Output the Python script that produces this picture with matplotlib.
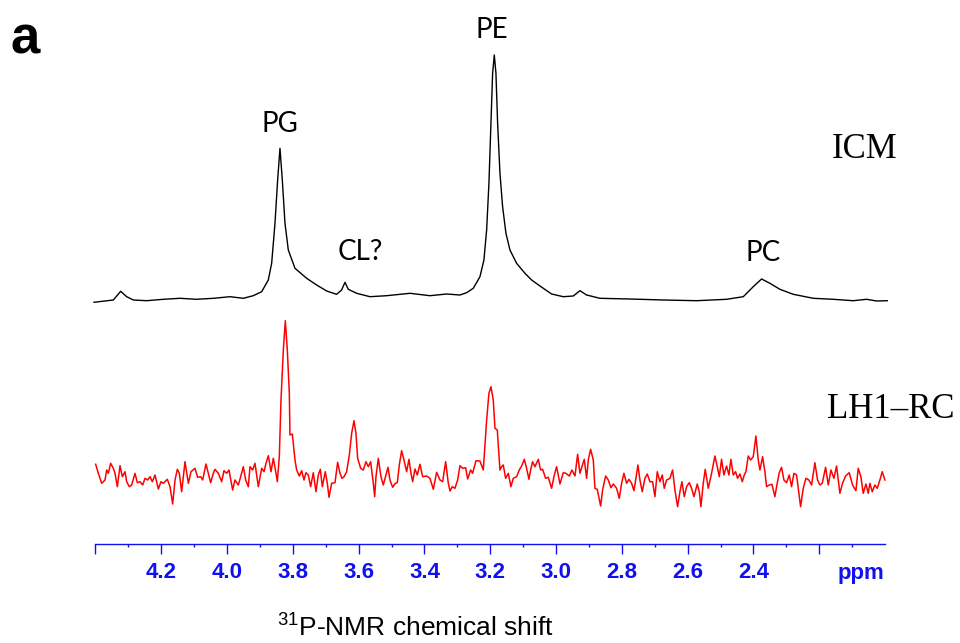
import numpy as np
import matplotlib
matplotlib.use('Agg')
import matplotlib.pyplot as plt

# ICM spectrum: chemical shift (ppm) and intensity (a.u., baseline = 0)
icm_ppm = [4.4045, 4.3458, 4.3235, 4.3053, 4.2850, 4.2445, 4.1938, 4.1431, 4.0925, 4.0418,
           3.9912, 3.9506, 3.9203, 3.8949, 3.8747, 3.8645, 3.8544, 3.8463, 3.8392, 3.8321,
           3.8240, 3.8139, 3.7936, 3.7581, 3.7277, 3.6974, 3.6670, 3.6518, 3.6416, 3.6315,
           3.6062, 3.5656, 3.5150, 3.4441, 3.3833, 3.3326, 3.2921, 3.2718, 3.2516, 3.2313,
           3.2192, 3.2110, 3.2040, 3.1979, 3.1928, 3.1877, 3.1827, 3.1776, 3.1705, 3.1624,
           3.1523, 3.1401, 3.1199, 3.0945, 3.0743, 3.0489, 3.0135, 2.9780, 2.9476, 2.9273,
           2.9071, 2.8666, 2.7754, 2.6741, 2.5727, 2.4816, 2.4309, 2.4005, 2.3752, 2.3498,
           2.3194, 2.2789, 2.2181, 2.1574, 2.0966, 2.0560, 2.0256, 1.9932]
icm_int = [-2.3, 0.0, 8.7, 3.3, 0.0, -0.7, 0.7, 1.7, 0.7, 1.7,
           3.3, 1.7, 4.3, 8.3, 20.0, 36.7, 76.7, 120.0, 151.7, 120.0,
           76.7, 50.0, 31.7, 21.7, 15.0, 9.0, 5.7, 10.0, 17.7, 10.7,
           6.7, 3.3, 4.3, 6.7, 4.3, 6.0, 5.0, 7.3, 11.7, 23.3,
           40.0, 70.0, 116.7, 176.7, 226.7, 245.0, 226.7, 176.7, 126.7, 93.3,
           66.7, 50.0, 36.7, 26.7, 20.0, 14.0, 6.0, 3.3, 4.0, 9.3,
           5.0, 1.7, 1.0, 0.0, -0.7, 0.7, 3.3, 13.3, 21.0, 16.7,
           10.7, 5.7, 1.7, 0.7, -0.7, 0.7, -1.0, -0.7]

# LH1-RC spectrum
rc_ppm = [4.3995, 4.3914, 4.3812, 4.3711, 4.3660, 4.3610, 4.3539, 4.3458, 4.3407, 4.3336,
          4.3255, 4.3184, 4.3103, 4.3053, 4.2971, 4.2901, 4.2799, 4.2728, 4.2647, 4.2566,
          4.2495, 4.2414, 4.2343, 4.2272, 4.2191, 4.2090, 4.2009, 4.1938, 4.1816, 4.1735,
          4.1654, 4.1583, 4.1512, 4.1452, 4.1381, 4.1279, 4.1178, 4.1097, 4.0975, 4.0894,
          4.0803, 4.0742, 4.0641, 4.0570, 4.0499, 4.0418, 4.0368, 4.0266, 4.0165, 4.0094,
          4.0013, 3.9942, 3.9831, 3.9760, 3.9658, 3.9587, 3.9506, 3.9435, 3.9354, 3.9304,
          3.9223, 3.9152, 3.9050, 3.8949, 3.8878, 3.8817, 3.8746, 3.8665, 3.8594, 3.8513,
          3.8473, 3.8412, 3.8361, 3.8290, 3.8230, 3.8169, 3.8108, 3.8088, 3.8017, 3.7936,
          3.7885, 3.7804, 3.7733, 3.7662, 3.7602, 3.7531, 3.7460, 3.7379, 3.7298, 3.7227,
          3.7166, 3.7105, 3.7014, 3.6953, 3.6902, 3.6821, 3.6720, 3.6639, 3.6568, 3.6507,
          3.6446, 3.6365, 3.6284, 3.6213, 3.6142, 3.6082, 3.6031, 3.5940, 3.5859, 3.5778,
          3.5707, 3.5636, 3.5555, 3.5514, 3.5474, 3.5403, 3.5322, 3.5251, 3.5170, 3.5109,
          3.5048, 3.4967, 3.4886, 3.4825, 3.4765, 3.4694, 3.4623, 3.4542, 3.4471, 3.4410,
          3.4359, 3.4288, 3.4218, 3.4136, 3.4055, 3.3934, 3.3833, 3.3731, 3.3630, 3.3528,
          3.3447, 3.3356, 3.3275, 3.3224, 3.3153, 3.3073, 3.2992, 3.2921, 3.2840, 3.2748,
          3.2687, 3.2596, 3.2536, 3.2434, 3.2313, 3.2212, 3.2110, 3.2040, 3.1979, 3.1908,
          3.1857, 3.1786, 3.1705, 3.1654, 3.1604, 3.1533, 3.1452, 3.1371, 3.1300, 3.1198,
          3.1117, 3.1046, 3.0965, 3.0895, 3.0824, 3.0773, 3.0712, 3.0641, 3.0540, 3.0469,
          3.0408, 3.0317, 3.0236, 3.0135, 3.0064, 2.9983, 2.9881, 2.9780, 2.9699, 2.9598,
          2.9517, 2.9425, 2.9344, 2.9273, 2.9213, 2.9142, 2.9071, 2.9020, 2.8949, 2.8868,
          2.8817, 2.8747, 2.8645, 2.8585, 2.8493, 2.8412, 2.8331, 2.8260, 2.8159, 2.8078,
          2.8007, 2.7936, 2.7855, 2.7784, 2.7703, 2.7632, 2.7571, 2.7511, 2.7450, 2.7379,
          2.7298, 2.7227, 2.7146, 2.7065, 2.6994, 2.6923, 2.6842, 2.6771, 2.6710, 2.6639,
          2.6538, 2.6457, 2.6386, 2.6305, 2.6234, 2.6173, 2.6102, 2.6031, 2.5950, 2.5879,
          2.5808, 2.5707, 2.5646, 2.5596, 2.5525, 2.5464, 2.5373, 2.5272, 2.5170, 2.5099,
          2.5038, 2.4968, 2.4897, 2.4816, 2.4745, 2.4684, 2.4613, 2.4542, 2.4481, 2.4410,
          2.4339, 2.4279, 2.4228, 2.4157, 2.4086, 2.4005, 2.3924, 2.3853, 2.3802, 2.3721,
          2.3651, 2.3600, 2.3519, 2.3438, 2.3347, 2.3296, 2.3215, 2.3144, 2.3073, 2.2992,
          2.2911, 2.2840, 2.2769, 2.2688, 2.2627, 2.2566, 2.2485, 2.2404, 2.2313, 2.2232,
          2.2131, 2.2050, 2.1979, 2.1908, 2.1806, 2.1725, 2.1644, 2.1553, 2.1472, 2.1371,
          2.1290, 2.1199, 2.1087, 2.0986, 2.0885, 2.0814, 2.0733, 2.0662, 2.0581, 2.0510,
          2.0459, 2.0388, 2.0307, 2.0236, 2.0155, 2.0084, 2.0003]
rc_int = [15.7, 6.7, -3.3, 0.0, 10.0, 6.7, 16.7, 11.7, 6.7, -6.7,
          14.3, 3.3, 8.3, -1.7, -6.7, -5.0, 6.7, -2.7, -1.7, -5.0,
          1.7, 0.0, 3.3, -1.7, 5.0, -9.0, -1.7, -3.3, 0.7, -6.7,
          -24.0, 0.0, 10.7, 6.7, -11.7, 18.3, -3.3, 8.3, 11.7, 2.7,
          3.3, 0.0, 16.0, 6.7, -2.7, 6.7, 10.7, 6.7, -1.7, 9.3,
          6.7, 10.0, -10.0, 0.0, -5.0, 3.3, 13.3, 0.0, -6.7, 13.3,
          10.0, 16.7, -6.7, 11.7, 8.3, 16.7, 24.3, 8.3, 21.7, 6.7,
          -1.7, 23.3, 80.0, 130.0, 159.3, 130.0, 86.7, 45.0, 46.0, 20.0,
          10.0, 4.0, 9.3, 0.0, 7.3, 5.0, -6.7, 7.3, -11.7, 5.0,
          10.7, -6.7, 8.3, -3.3, -17.3, -3.3, -2.7, 17.7, 6.7, 1.7,
          3.3, 8.3, 25.0, 46.7, 59.3, 46.7, 21.7, 11.7, 10.0, 18.3,
          13.3, 18.3, -3.3, -16.7, 3.3, 21.7, 3.3, -5.0, 5.0, 12.7,
          0.0, -7.3, -3.3, -2.7, 15.0, 29.3, 20.0, 8.3, 20.7, 6.7,
          -1.7, 11.0, 5.0, 15.7, 3.3, 4.0, 1.7, -9.3, 7.7, 0.0,
          -1.7, 18.3, -3.3, -11.0, -6.7, -8.3, 0.0, 14.3, 11.7, 12.3,
          1.0, 10.0, 6.7, 19.3, 19.0, 10.0, 60.0, 86.7, 93.3, 80.0,
          51.7, 50.0, 10.0, 13.3, 15.0, 1.7, 6.7, -6.7, 1.7, 3.3,
          10.0, 14.0, 20.7, 11.7, 0.7, 10.0, 18.3, 13.3, 20.7, 10.0,
          10.7, 1.7, 2.7, -8.3, 3.3, 13.3, -4.0, 7.3, 6.7, 4.0,
          10.0, 4.0, 25.7, 6.7, 13.3, 20.7, 1.7, 20.0, 30.7, 20.0,
          -8.3, -9.3, -26.0, -10.0, 4.0, 0.0, -7.7, -4.0, -8.3, -18.3,
          -3.3, 6.7, -3.3, 0.7, -3.3, -10.7, 1.7, 15.0, 0.0, -11.7,
          1.7, 6.0, -1.7, -1.7, -16.7, 8.3, -1.7, 5.0, -8.3, 0.0,
          1.7, 10.0, -10.0, -26.7, -11.7, -1.7, -16.7, -6.7, -2.7, -8.3,
          -16.7, -4.0, -11.7, -26.7, -3.3, 10.7, -8.3, 6.7, 24.0, 13.3,
          3.3, 20.7, 5.0, 14.0, 5.0, 20.7, 5.0, 8.3, 1.7, 6.0,
          -1.7, 5.0, 8.3, 24.0, 20.0, 23.3, 44.0, 20.0, 10.0, 23.3,
          8.3, -6.7, -5.0, -4.3, -16.7, -6.7, 7.3, 12.7, 0.0, -2.7,
          5.0, -6.7, 6.7, 5.0, -11.0, -26.7, -8.3, 1.7, 0.0, -5.0,
          17.3, 0.0, -5.0, -3.3, 12.7, -5.0, 10.0, 1.7, 14.0, -13.3,
          -3.3, 4.0, 7.3, -5.0, -10.7, 11.7, 3.3, -13.3, -4.0, -13.3,
          -3.3, -11.7, -5.0, -8.3, 0.0, 8.3, 0.0]

peak_names = ['PG', 'CL?', 'PE', 'PC']
peak_ppm = [3.839, 3.595, 3.196, 2.371]

major_ticks = [4.4, 4.2, 4.0, 3.8, 3.6, 3.4, 3.2, 3.0, 2.8, 2.6, 2.4, 2.2]
major_labels = ['', '4.2', '4.0', '3.8', '3.6', '3.4', '3.2', '3.0', '2.8', '2.6', '2.4', '']
minor_ticks = [4.3, 4.1, 3.9, 3.7, 3.5, 3.3, 3.1, 2.9, 2.7, 2.5, 2.3, 2.1]

icm_offset = 244
rc_offset = 64
blue = '#1010f0'

plt.rcParams['mathtext.fontset'] = 'custom'
plt.rcParams['mathtext.rm'] = 'Liberation Sans'
plt.rcParams['mathtext.it'] = 'Liberation Sans'

fig = plt.figure(figsize=(9.6, 6.43), dpi=100)
ax = fig.add_axes([95.5 / 960, 1 - 544 / 643, (885 - 95.5) / 960, 544 / 643])

ax.plot(icm_ppm, np.array(icm_int) + icm_offset, color='black', lw=1.0, clip_on=False)
ax.plot(rc_ppm, np.array(rc_int) + rc_offset, color='#ff0000', lw=1.1, clip_on=False)

ax.set_xlim(4.4, 2.0)
ax.set_ylim(0, 544)

for s in ['top', 'left', 'right']:
    ax.spines[s].set_visible(False)
ax.spines['bottom'].set_color(blue)
ax.spines['bottom'].set_linewidth(1.0)
ax.set_yticks([])

ax.set_xticks(major_ticks)
ax.set_xticklabels(major_labels)
ax.set_xticks(minor_ticks, minor=True)
ax.tick_params(axis='x', which='major', length=7.2, width=1.0, color=blue, pad=6,
               labelcolor=blue, labelsize=16)
ax.tick_params(axis='x', which='minor', length=2.4, width=1.0, color=blue)
for lbl in ax.get_xticklabels():
    lbl.set_fontfamily('Liberation Sans')
    lbl.set_fontweight('bold')

fig.text(884 / 960, 1 - 579 / 643, 'ppm', color=blue, fontsize=16, fontweight='bold',
         family='Liberation Sans', ha='right', va='baseline')

# peak labels
label_y = [412, 284, 506, 283]
for name, pos, ly in zip(peak_names, peak_ppm, label_y):
    ax.text(pos, ly, name, fontsize=20, family='Lato', ha='center', va='baseline')

ax.text(2.061, 386, 'ICM', fontsize=25, family='Liberation Serif', ha='center', va='baseline')
ax.text(1.982, 126, 'LH1\u2013RC', fontsize=25, family='Liberation Serif', ha='center',
        va='baseline', clip_on=False)

fig.text(415 / 960, 1 - 637 / 643, '$^{31}$P-NMR chemical shift', fontsize=19,
         family='Liberation Sans', ha='center', va='baseline')
fig.text(10 / 960, 1 - 54 / 643, 'a', fontsize=38, fontweight='bold',
         family='Liberation Sans', ha='left', va='baseline')

fig.savefig('out.png', dpi=100)
